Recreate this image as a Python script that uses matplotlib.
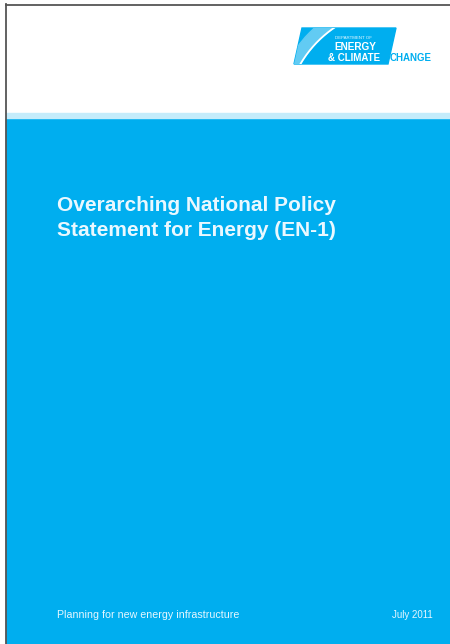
import matplotlib
matplotlib.use("Agg")
import matplotlib.pyplot as plt
from matplotlib.patches import Polygon, Rectangle, Wedge
import numpy as np

W, H = 450, 644
title_lines = ["Overarching National Policy", "Statement for Energy (EN-1)"]
footer_left = "Planning for new energy infrastructure"
footer_right = "July 2011"
logo_lines = ["DEPARTMENT OF", "ENERGY", "& CLIMATE", "CHANGE"]

BLUE = "#00AEEF"

fig = plt.figure(figsize=(W / 100, H / 100), dpi=100)
ax = fig.add_axes([0, 0, 1, 1])
ax.set_xlim(0, W)
ax.set_ylim(H, 0)
ax.axis("off")

# white page
ax.add_patch(Rectangle((0, 0), W, H, color="white", zorder=0))
# blue band
ax.add_patch(Rectangle((6, 118), W - 6, H - 118, color=BLUE, zorder=1))
ax.add_patch(Rectangle((6, 113), W - 6, 5, color="#c4ecfb", zorder=1))
# borders
ax.plot([5.5, 5.5], [4, H], color="#555555", lw=1.3, zorder=5)
ax.plot([5.5, W], [4.5, 4.5], color="#555555", lw=1.3, zorder=5)

# logo parallelogram
shape = [(302, 28), (396, 28), (388, 64), (294, 64)]
ax.add_patch(Polygon(shape, closed=True, color=BLUE, zorder=2))
clip = Polygon(shape, closed=True, transform=ax.transData)
cx, cy, r = 398, 121, 113
ring = Wedge((cx, cy), r + 12, 0, 360, width=12, color="#62cbf3", zorder=3)
ax.add_patch(ring)
ring.set_clip_path(clip)
t = np.linspace(0, 2 * np.pi, 400)
arc = ax.plot(cx + r * np.cos(t), cy + r * np.sin(t),
              color="white", lw=1.3, zorder=4)[0]
arc.set_clip_path(clip)

ax.text(335, 38, logo_lines[0], color="#e8f8ff", fontsize=3.2,
        family="Liberation Sans", va="center", ha="left", zorder=6)
ax.text(334, 47, logo_lines[1], color="white", fontsize=7.2, weight="bold",
        family="Liberation Sans", va="center", ha="left", zorder=6)
ax.text(328, 58, logo_lines[2], color="white", fontsize=7.0, weight="bold",
        family="Liberation Sans", va="center", ha="left", zorder=6)
ax.text(390, 58, logo_lines[3], color=BLUE, fontsize=7.0, weight="bold",
        family="Liberation Sans", va="center", ha="left", zorder=6)

# title
for i, line in enumerate(title_lines):
    ax.text(57, 205 + i * 25, line, color="#eaf8ff", fontsize=15,
            weight="bold", family="Liberation Sans", va="center", ha="left",
            zorder=6)

# footer
ax.text(57, 615, footer_left, color="#e6f7ff", fontsize=7.7,
        family="Liberation Sans", va="center", ha="left", zorder=6)
ax.text(433, 615, footer_right, color="#e6f7ff", fontsize=7.0,
        family="Liberation Sans", va="center", ha="right", zorder=6)

fig.savefig("out.png", dpi=100)
